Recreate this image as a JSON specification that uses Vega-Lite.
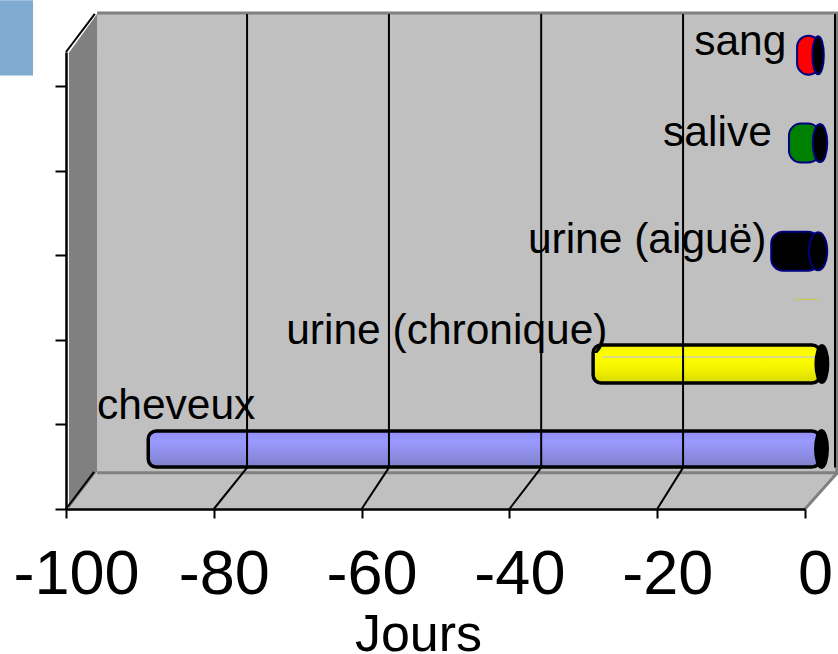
{
"$schema":"https://vega.github.io/schema/vega-lite/v6.json",
"width":739,"height":457,"autosize":{"type":"none"},"padding":{"left":66,"top":52,"right":33,"bottom":145},"background":"white",
"config":{"view":{"stroke":null},"font":"Liberation Sans"},
"datasets":{
"bars":[{"name":"cheveux","v":-90.9,"yc":0.71},{"name":"urine (chronique)","v":-30.7,"yc":1.716},{"name":"urine (aiguë)","v":-6.6,"yc":3.05},{"name":"salive","v":-4.2,"yc":4.33},{"name":"sang","v":-3.1,"yc":5.37}],
"labels":[{"name":"cheveux","x":-95.8,"y":1.07},{"name":"urine (chronique)","x":-70.2,"y":1.95},{"name":"urine (aiguë)","x":-37.5,"y":3.03},{"name":"salive","x":-19.2,"y":4.3},{"name":"sang","x":-15,"y":5.37}],
"side":[{"x":-99.6,"y":5.4,"y2":0},{"x":-95.8,"y":5.858,"y2":0.438}],
"floor":[{"y":0,"x":-99.6,"x2":0},{"y":0.438,"x":-95.8,"x2":4.47}],
"edges":[{"g":"e1","i":0,"x":-95.8,"y":5.87},{"g":"e1","i":1,"x":4.47,"y":5.87},{"g":"e2","i":0,"x":-95.8,"y":0.43},{"g":"e2","i":1,"x":4.47,"y":0.43},{"g":"e3","i":0,"x":0,"y":0},{"g":"e3","i":1,"x":4.47,"y":0.438},{"g":"e4","i":0,"x":4.3,"y":5.87},{"g":"e4","i":1,"x":4.3,"y":0.43}],
"grid":[
{"g":"a","i":0,"x":-80,"y":0},{"g":"a","i":1,"x":-75.5,"y":0.49},{"g":"a","i":2,"x":-75.5,"y":5.858},
{"g":"b","i":0,"x":-60,"y":0},{"g":"b","i":1,"x":-56.3,"y":0.49},{"g":"b","i":2,"x":-56.3,"y":5.858},
{"g":"c","i":0,"x":-40,"y":0},{"g":"c","i":1,"x":-35.7,"y":0.49},{"g":"c","i":2,"x":-35.7,"y":5.858},
{"g":"d","i":0,"x":-20,"y":0},{"g":"d","i":1,"x":-16.5,"y":0.49},{"g":"d","i":2,"x":-16.5,"y":5.858},
{"g":"f","i":0,"x":4.06,"y":0.49},{"g":"f","i":1,"x":4.06,"y":5.858},
{"g":"l","i":0,"x":-100,"y":0},{"g":"l","i":1,"x":-96.2,"y":0.44},
{"g":"t","i":0,"x":-100,"y":5.408},{"g":"t","i":1,"x":-96.1,"y":5.858}]
},
"encoding":{},
"layer":[
{"data":{"values":[{"x":-108.93,"x2":-104.46,"y":6.02,"y2":5.13}]},"mark":{"type":"rect","fill":"#7fabd0"},
 "encoding":{"x":{"field":"x","type":"quantitative","scale":{"domain":[-100,0],"nice":false,"zero":false,"padding":0},
   "axis":{"values":[-100,-80,-60,-40,-20,0],"grid":false,"title":"Jours","titleFontSize":52,"titleFontWeight":"normal","titleColor":"black","titleX":352,"titleY":141,"titleBaseline":"alphabetic","titleAlign":"center","labelFontSize":63,"labelColor":"black","labelOffset":10,"labelPadding":25,"labelOverlap":false,"labelFlush":false,"tickSize":9,"tickWidth":2,"tickColor":"black","domainColor":"black","domainWidth":2.5,"zindex":1,"labelExpr":"'' + datum.value"}},
  "x2":{"field":"x2"},
  "y":{"field":"y","type":"quantitative","scale":{"domain":[0,5.408],"nice":false,"zero":false,"padding":0},
   "axis":{"values":[0,1,2,3,4,5],"grid":false,"title":null,"labels":false,"tickSize":11,"tickWidth":2,"tickColor":"black","domainColor":"black","domainWidth":2.5,"zindex":1}},
  "y2":{"field":"y2"}}},
{"data":{"values":[{"x":-95.8,"x2":4.47,"y":5.858,"y2":0.438}]},"mark":{"type":"rect","fill":"#c0c0c0"},
 "encoding":{"x":{"field":"x","type":"quantitative"},"x2":{"field":"x2"},"y":{"field":"y","type":"quantitative"},"y2":{"field":"y2"}}},
{"data":{"name":"side"},"mark":{"type":"area","fill":"#808080","orient":"vertical"},
 "encoding":{"x":{"field":"x","type":"quantitative"},"y":{"field":"y","type":"quantitative"},"y2":{"field":"y2"}}},
{"data":{"name":"floor"},"mark":{"type":"area","fill":"#c0c0c0","orient":"horizontal"},
 "encoding":{"y":{"field":"y","type":"quantitative"},"x":{"field":"x","type":"quantitative"},"x2":{"field":"x2"}}},
{"data":{"name":"edges"},"mark":{"type":"line","stroke":"#808080","strokeWidth":3},
 "encoding":{"x":{"field":"x","type":"quantitative"},"y":{"field":"y","type":"quantitative"},"detail":{"field":"g"},"order":{"field":"i"}}},
{"data":{"values":[{"x":-1.35,"x2":1.8,"y":2.48}]},"mark":{"type":"rule","stroke":"#c8c83c","strokeWidth":1},
 "encoding":{"x":{"field":"x","type":"quantitative"},"x2":{"field":"x2"},"y":{"field":"y","type":"quantitative"}}},
{"data":{"name":"bars"},"transform":[{"filter":"datum.name==='urine (chronique)'"}],
 "mark":{"type":"bar","orient":"horizontal","height":38,"xOffset":15,"x2Offset":15,"cornerRadius":8,"stroke":"black","strokeWidth":3.5,"fill":{"x1":0,"y1":0,"x2":0,"y2":1,"gradient":"linear","stops":[{"offset":0,"color":"#f4f400"},{"offset":0.25,"color":"#ffff00"},{"offset":0.6,"color":"#f5f500"},{"offset":1,"color":"#d8d800"}]}},
 "encoding":{"x":{"field":"v","type":"quantitative"},"x2":{"datum":0},"y":{"field":"yc","type":"quantitative"}}},
{"data":{"name":"bars"},"transform":[{"filter":"datum.name==='cheveux'"}],
 "mark":{"type":"bar","orient":"horizontal","height":36,"xOffset":15,"x2Offset":15,"cornerRadius":8,"stroke":"black","strokeWidth":3.5,"fill":{"x1":0,"y1":0,"x2":0,"y2":1,"gradient":"linear","stops":[{"offset":0,"color":"#8f8ff5"},{"offset":0.3,"color":"#9999ff"},{"offset":0.6,"color":"#8f8fe8"},{"offset":1,"color":"#7f7fcc"}]}},
 "encoding":{"x":{"field":"v","type":"quantitative"},"x2":{"datum":0},"y":{"field":"yc","type":"quantitative"}}},
{"data":{"values":[{"x":-27.4,"x2":1.7,"y":1.80}]},"mark":{"type":"rule","stroke":"#cfcfb0","strokeWidth":1.5},
 "encoding":{"x":{"field":"x","type":"quantitative"},"x2":{"field":"x2"},"y":{"field":"y","type":"quantitative"}}},
{"data":{"name":"bars"},"transform":[{"filter":"datum.v>-10"}],
 "mark":{"type":"bar","orient":"horizontal","height":39,"xOffset":15,"x2Offset":15,"cornerRadius":12,"stroke":"#000080","strokeWidth":2},
 "encoding":{"x":{"field":"v","type":"quantitative"},"x2":{"datum":0},"y":{"field":"yc","type":"quantitative"},
  "fill":{"field":"name","type":"nominal","legend":null,"scale":{"domain":["urine (aiguë)","salive","sang"],"range":["#000000","#008000","#ff0000"]}}}},
{"data":{"name":"bars"},
 "mark":{"type":"point","filled":true,"fill":"black","size":1444,"opacity":1,"xOffset":15},
 "encoding":{"x":{"datum":0},"y":{"field":"yc","type":"quantitative"},
  "stroke":{"field":"name","type":"nominal","legend":null,"scale":{"domain":["cheveux","urine (chronique)","urine (aiguë)","salive","sang"],"range":["#000000","#000000","#000080","#000080","#000080"]}},
  "shape":{"field":"name","type":"nominal","legend":null,"scale":{"domain":["cheveux","urine (chronique)","urine (aiguë)","salive","sang"],"range":["M0.08,-1A0.34,1 0 1 1 0.08,1A0.34,1 0 1 1 0.08,-1Z","M0.1,-1A0.34,1 0 1 1 0.1,1A0.34,1 0 1 1 0.1,-1Z","M-0.1,-1A0.48,1 0 1 1 -0.1,1A0.48,1 0 1 1 -0.1,-1Z","M0,-1A0.38,1 0 1 1 0,1A0.38,1 0 1 1 0,-1Z","M-0.1,-1A0.3,1 0 1 1 -0.1,1A0.3,1 0 1 1 -0.1,-1Z"]}}}},
{"data":{"name":"grid"},"mark":{"type":"line","stroke":"black","strokeWidth":2},
 "encoding":{"x":{"field":"x","type":"quantitative"},"y":{"field":"y","type":"quantitative"},"detail":{"field":"g"},"order":{"field":"i"}}},
{"data":{"name":"labels"},"mark":{"type":"text","align":"left","baseline":"alphabetic","fontSize":42.5,"fill":"black"},
 "encoding":{"x":{"field":"x","type":"quantitative"},"y":{"field":"y","type":"quantitative"},"text":{"field":"name"}}}
]}
